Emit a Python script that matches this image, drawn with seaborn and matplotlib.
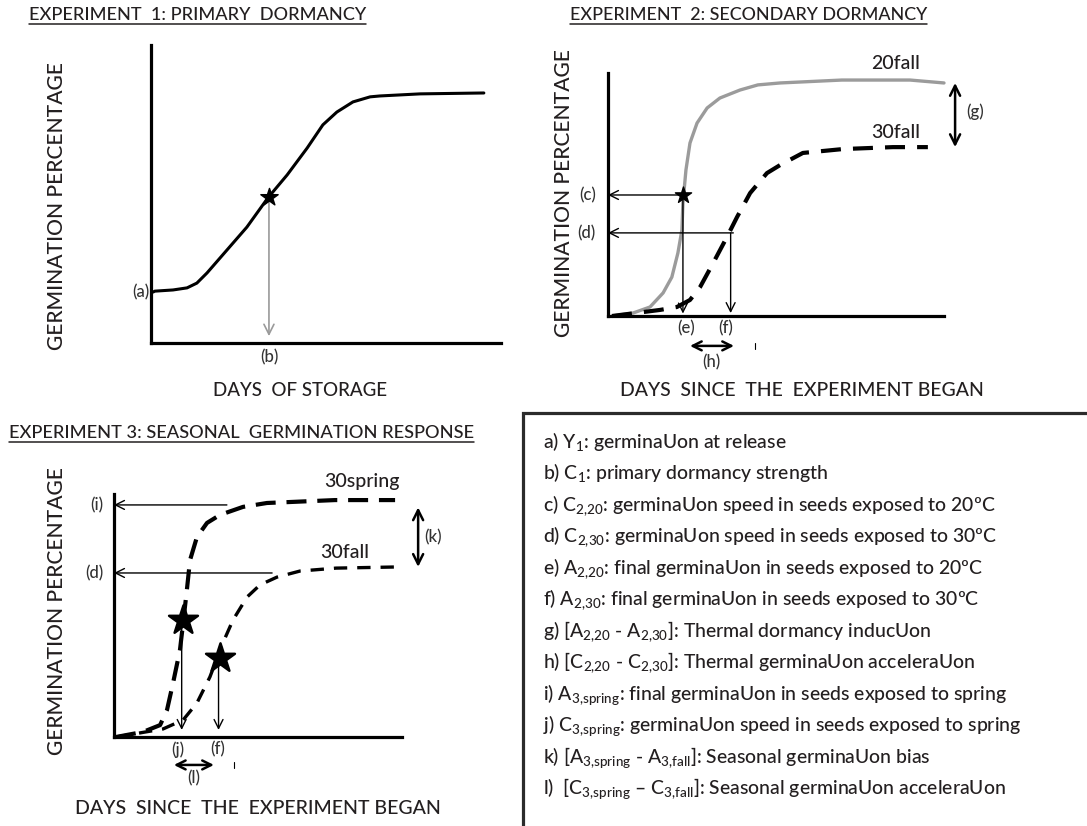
import matplotlib
matplotlib.use("Agg")
import matplotlib.pyplot as plt
import seaborn as sns
from matplotlib.lines import Line2D
from matplotlib.patches import Rectangle

# --- data (x = days, y = germination %, both on a 0-100 scale) ---
# experiment 1
exp1_days = [0.6, 1.1, 6.3, 10.3, 13.1, 16.0, 21.7, 27.4, 33.4, 38.9, 44.6, 49.1, 53.1, 57.7, 62.6, 65.4, 76.9, 95.1]
exp1_germ = [17.1, 17.4, 17.8, 18.5, 20.1, 23.5, 31.2, 38.9, 48.7, 56.4, 65.4, 73.2, 77.5, 80.9, 82.6, 82.9, 83.6, 83.9]
exp1_star = [33.7, 49.0]

# experiment 2
fall20_days = [1.2, 7.4, 12.5, 16.4, 19.0, 20.8, 22.0, 22.3, 23.2, 24.4, 26.5, 29.5, 33.3, 39.3, 44.6, 51.2, 69.6, 89.9, 100]
fall20_germ = [0, 1.2, 3.7, 9.5, 16.0, 25.9, 35.4, 46.5, 60.1, 71.2, 79.4, 85.6, 89.7, 93.0, 95.1, 95.9, 97.1, 97.1, 95.9]
fall30_days = [1.2, 15.5, 20.5, 24.4, 27.4, 31.3, 35.4, 38.4, 42.3, 47.3, 51.2, 58.0, 69.9, 84.8, 95.2]
fall30_germ = [0, 2.5, 3.7, 6.6, 11.9, 21.8, 32.5, 40.7, 50.6, 58.8, 62.1, 67.1, 68.7, 69.5, 69.5]
exp2_star = [22.3, 49.8]
exp2_d = [36.5, 34.2]

# experiment 3
spring30_days = [0.7, 10.1, 16.0, 18.4, 20.5, 22.9, 24.0, 25.3, 26.4, 28.8, 32.3, 36.8, 44.8, 53.1, 61.1, 76.7, 97.6]
spring30_germ = [0, 2.1, 4.9, 11.1, 22.2, 35.8, 46.9, 60.5, 72.8, 82.3, 88.1, 91.4, 94.7, 96.3, 96.7, 97.5, 97.5]
fall30b_days = [0.7, 17.0, 24.0, 28.8, 33.3, 37.8, 41.3, 46.2, 50.7, 56.6, 64.6, 77.1, 99.3]
fall30b_germ = [0, 3.3, 7.0, 14.0, 24.7, 38.7, 48.1, 57.6, 62.6, 65.8, 68.3, 69.5, 70.0]
exp3_star_x = [24.0, 36.8]
exp3_star_y = [48.1, 32.5]
exp3_i = [39.2, 95.5]
exp3_d = [54.9, 67.5]

legend_lines = [
    r"a) Y$_\mathregular{1}$: germinaUon at release",
    r"b) C$_\mathregular{1}$: primary dormancy strength",
    r"c) C$_\mathregular{2{,}20}$: germinaUon speed in seeds exposed to 20ºC",
    r"d) C$_\mathregular{2{,}30}$: germinaUon speed in seeds exposed to 30ºC",
    r"e) A$_\mathregular{2{,}20}$: final germinaUon in seeds exposed to 20ºC",
    r"f) A$_\mathregular{2{,}30}$: final germinaUon in seeds exposed to 30ºC",
    r"g) [A$_\mathregular{2{,}20}$ - A$_\mathregular{2{,}30}$]: Thermal dormancy inducUon",
    r"h) [C$_\mathregular{2{,}20}$ - C$_\mathregular{2{,}30}$]: Thermal germinaUon acceleraUon",
    r"i) A$_\mathregular{3{,}spring}$: final germinaUon in seeds exposed to spring",
    r"j) C$_\mathregular{3{,}spring}$: germinaUon speed in seeds exposed to spring",
    r"k) [A$_\mathregular{3{,}spring}$ - A$_\mathregular{3{,}fall}$]: Seasonal germinaUon bias",
    r"l)  [C$_\mathregular{3{,}spring}$ – C$_\mathregular{3{,}fall}$]: Seasonal germinaUon acceleraUon",
]

sns.set_style("white")
plt.rcParams['font.family'] = ['Lato', 'DejaVu Sans']
plt.rcParams['font.weight'] = 'medium'
plt.rcParams['mathtext.fontset'] = 'custom'
plt.rcParams['mathtext.rm'] = 'Lato'
plt.rcParams['mathtext.it'] = 'Lato:italic'
plt.rcParams['mathtext.bf'] = 'Lato:bold'

W, H = 1087, 826
fig = plt.figure(figsize=(W / 100, H / 100), dpi=100)
TXT = '#231f20'
LAB = '#333333'


def box(l, t, r, b):
    return [l / W, 1 - b / H, (r - l) / W, (b - t) / H]


def ftext(px, py, s, **kw):
    return fig.text(px / W, 1 - py / H, s, color=TXT, **kw)


def arrow(ax, x0, y0, x1, y1, style='->', lw=1.0, color='black', ms=14):
    ax.annotate('', xy=(x1, y1), xytext=(x0, y0), annotation_clip=False,
                arrowprops=dict(arrowstyle=style, lw=lw, color=color,
                                shrinkA=0, shrinkB=0, mutation_scale=ms))


def label(ax, x, y, s, ha='center', size=12):
    ax.text(x, y, s, ha=ha, va='center', fontsize=size, color=LAB, clip_on=False)


ax1 = fig.add_axes(box(151, 45, 501, 343))
ax2 = fig.add_axes(box(608, 73, 944, 316))
ax3 = fig.add_axes(box(114, 494, 402, 737))
for ax in (ax1, ax2, ax3):
    ax.set_xlim(0, 100)
    ax.set_ylim(0, 100)
    ax.set_xticks([])
    ax.set_yticks([])
    sns.despine(ax=ax)
    for s in ('left', 'bottom'):
        ax.spines[s].set_linewidth(2.3)
        ax.spines[s].set_color('black')
    ax.patch.set_alpha(0)

# ---------- experiment 1 ----------
sns.lineplot(x=exp1_days, y=exp1_germ, ax=ax1, color='black', lw=2.2,
             sort=False, estimator=None, clip_on=False, solid_joinstyle='round')
arrow(ax1, exp1_star[0], exp1_star[1], exp1_star[0], 2.3, color='#9a9a9a', lw=1.2, ms=18)
sns.scatterplot(x=[exp1_star[0]], y=[exp1_star[1]], ax=ax1, marker='*', s=170,
                color='black', edgecolor='black', zorder=5, clip_on=False)
label(ax1, -0.3, exp1_germ[0], '(a)', ha='right')
label(ax1, exp1_star[0], -4.9, '(b)')

# ---------- experiment 2 ----------
sns.lineplot(x=fall20_days, y=fall20_germ, ax=ax2, color='#9b9b9b', lw=2.4,
             sort=False, estimator=None, clip_on=False, solid_joinstyle='round')
sns.lineplot(x=fall30_days, y=fall30_germ, ax=ax2, color='black', lw=3.0,
             sort=False, estimator=None, clip_on=False, linestyle=(0, (4.8, 2.9)))
arrow(ax2, exp2_star[0], exp2_star[1], 0, exp2_star[1], ms=16)
arrow(ax2, exp2_star[0], exp2_star[1], exp2_star[0], 1.0, ms=16)
arrow(ax2, exp2_d[0] + 0.8, exp2_d[1], 0, exp2_d[1], ms=16)
arrow(ax2, exp2_d[0], exp2_d[1], exp2_d[0], 1.2, ms=16)
sns.scatterplot(x=[exp2_star[0]], y=[exp2_star[1]], ax=ax2, marker='*', s=150,
                color='black', edgecolor='black', zorder=5, clip_on=False)
arrow(ax2, 103.3, fall20_germ[-1], 103.3, fall30_germ[-1], style='<->', lw=1.8, ms=18)
arrow(ax2, 24.4, -12.3, 37.5, -12.3, style='<->', lw=1.8, ms=16)
label(ax2, -3.6, exp2_star[1], '(c)', ha='right')
label(ax2, -3.6, exp2_d[1], '(d)', ha='right')
label(ax2, exp2_star[0] + 1, -5, '(e)')
label(ax2, exp2_d[0] - 1.5, -5, '(f)')
label(ax2, 30.7, -18.9, '(h)')
label(ax2, 109.2, 83.9, '(g)')
ax2.text(85.7, 104, '20fall', ha='center', va='center', fontsize=14, color=TXT, clip_on=False)
ax2.text(85.7, 75.7, '30fall', ha='center', va='center', fontsize=14, color=TXT, clip_on=False)
ax2.plot([43.8, 43.8], [-11.2, -13.4], color='black', lw=0.8, clip_on=False)

# ---------- experiment 3 ----------
sns.lineplot(x=spring30_days, y=spring30_germ, ax=ax3, color='black', lw=3.0,
             sort=False, estimator=None, clip_on=False, linestyle=(0, (4.8, 2.6)))
sns.lineplot(x=fall30b_days, y=fall30b_germ, ax=ax3, color='black', lw=2.4,
             sort=False, estimator=None, clip_on=False, linestyle=(0, (4.0, 3.0)))
arrow(ax3, exp3_i[0], exp3_i[1], 0, exp3_i[1], ms=16)
arrow(ax3, exp3_d[0], exp3_d[1], 0, exp3_d[1], ms=16)
for sx, sy in zip(exp3_star_x, exp3_star_y):
    arrow(ax3, sx - 0.5, sy, sx - 0.5, 2.9, ms=16)
sns.scatterplot(x=exp3_star_x, y=exp3_star_y, ax=ax3, marker='*', s=480,
                color='black', edgecolor='black', zorder=5, clip_on=False)
arrow(ax3, 105.6, spring30_germ[-1] - 3, 105.6, fall30b_germ[-1], style='<->', lw=1.8, ms=18)
arrow(ax3, 20.8, -11.5, 34.7, -11.5, style='<->', lw=1.8, ms=16)
label(ax3, -3.8, exp3_i[1], '(i)', ha='right')
label(ax3, -3.8, exp3_d[1], '(d)', ha='right')
label(ax3, 22.2, -5.2, '(j)')
label(ax3, 36.1, -5.2, '(f)')
label(ax3, 27.8, -16.8, '(l)')
label(ax3, 110.8, 82.2, '(k)')
ax3.text(86.1, 105, '30spring', ha='center', va='center', fontsize=14, color=TXT, clip_on=False)
ax3.text(80.2, 75.9, '30fall', ha='center', va='center', fontsize=14, color=TXT, clip_on=False)
ax3.plot([41.7, 41.7], [-10.4, -12.6], color='black', lw=0.8, clip_on=False)

# ---------- axis labels and titles (widths fitted to the original) ----------
fitted = []
for px, py in ((57, 206), (564, 193), (57, 611)):
    t = ftext(px, py, 'GERMINATION PERCENTAGE', rotation=90, ha='center', va='center', fontsize=15)
    fitted.append((t, 288, 'h'))
fitted.append((ftext(300, 390, 'DAYS  OF STORAGE', ha='center', va='center', fontsize=15), 175, 'w'))
fitted.append((ftext(802, 390, 'DAYS  SINCE  THE  EXPERIMENT BEGAN', ha='center', va='center', fontsize=15), 364, 'w'))
fitted.append((ftext(258, 808, 'DAYS  SINCE  THE  EXPERIMENT BEGAN', ha='center', va='center', fontsize=15), 368, 'w'))

titles = [
    ftext(29, 15, 'EXPERIMENT  1: PRIMARY  DORMANCY', ha='left', va='center', fontsize=13),
    ftext(570, 15, 'EXPERIMENT  2: SECONDARY DORMANCY', ha='left', va='center', fontsize=13),
    ftext(9, 433, 'EXPERIMENT 3: SEASONAL  GERMINATION RESPONSE', ha='left', va='center', fontsize=13),
]
for t, wpx in zip(titles, (336, 357, 465)):
    fitted.append((t, wpx, 'w'))

# ---------- definitions box ----------
fig.add_artist(Rectangle((523 / W, -0.05), 0.6, 1 - 413 / H + 0.05, transform=fig.transFigure,
                         fill=False, edgecolor='#2b2b2b', lw=2.3))
defs = [ftext(543, 448 + 31.45 * i, line, ha='left', va='baseline', fontsize=13)
        for i, line in enumerate(legend_lines)]

fig.canvas.draw()
r = fig.canvas.get_renderer()
for t, target, side in fitted:
    bb = t.get_window_extent(r)
    size = bb.height if side == 'h' else bb.width
    t.set_fontsize(t.get_fontsize() * target / size)
bb = defs[9].get_window_extent(r)
dsize = defs[9].get_fontsize() * 476 / bb.width
for t in defs:
    t.set_fontsize(dsize)

fig.canvas.draw()
for t in titles:
    bb = t.get_window_extent(r)
    y = (bb.y0 - 1) / H
    fig.add_artist(Line2D([bb.x0 / W, bb.x1 / W], [y, y], transform=fig.transFigure,
                          color=TXT, lw=1.1))

fig.savefig('out.png', dpi=100)
